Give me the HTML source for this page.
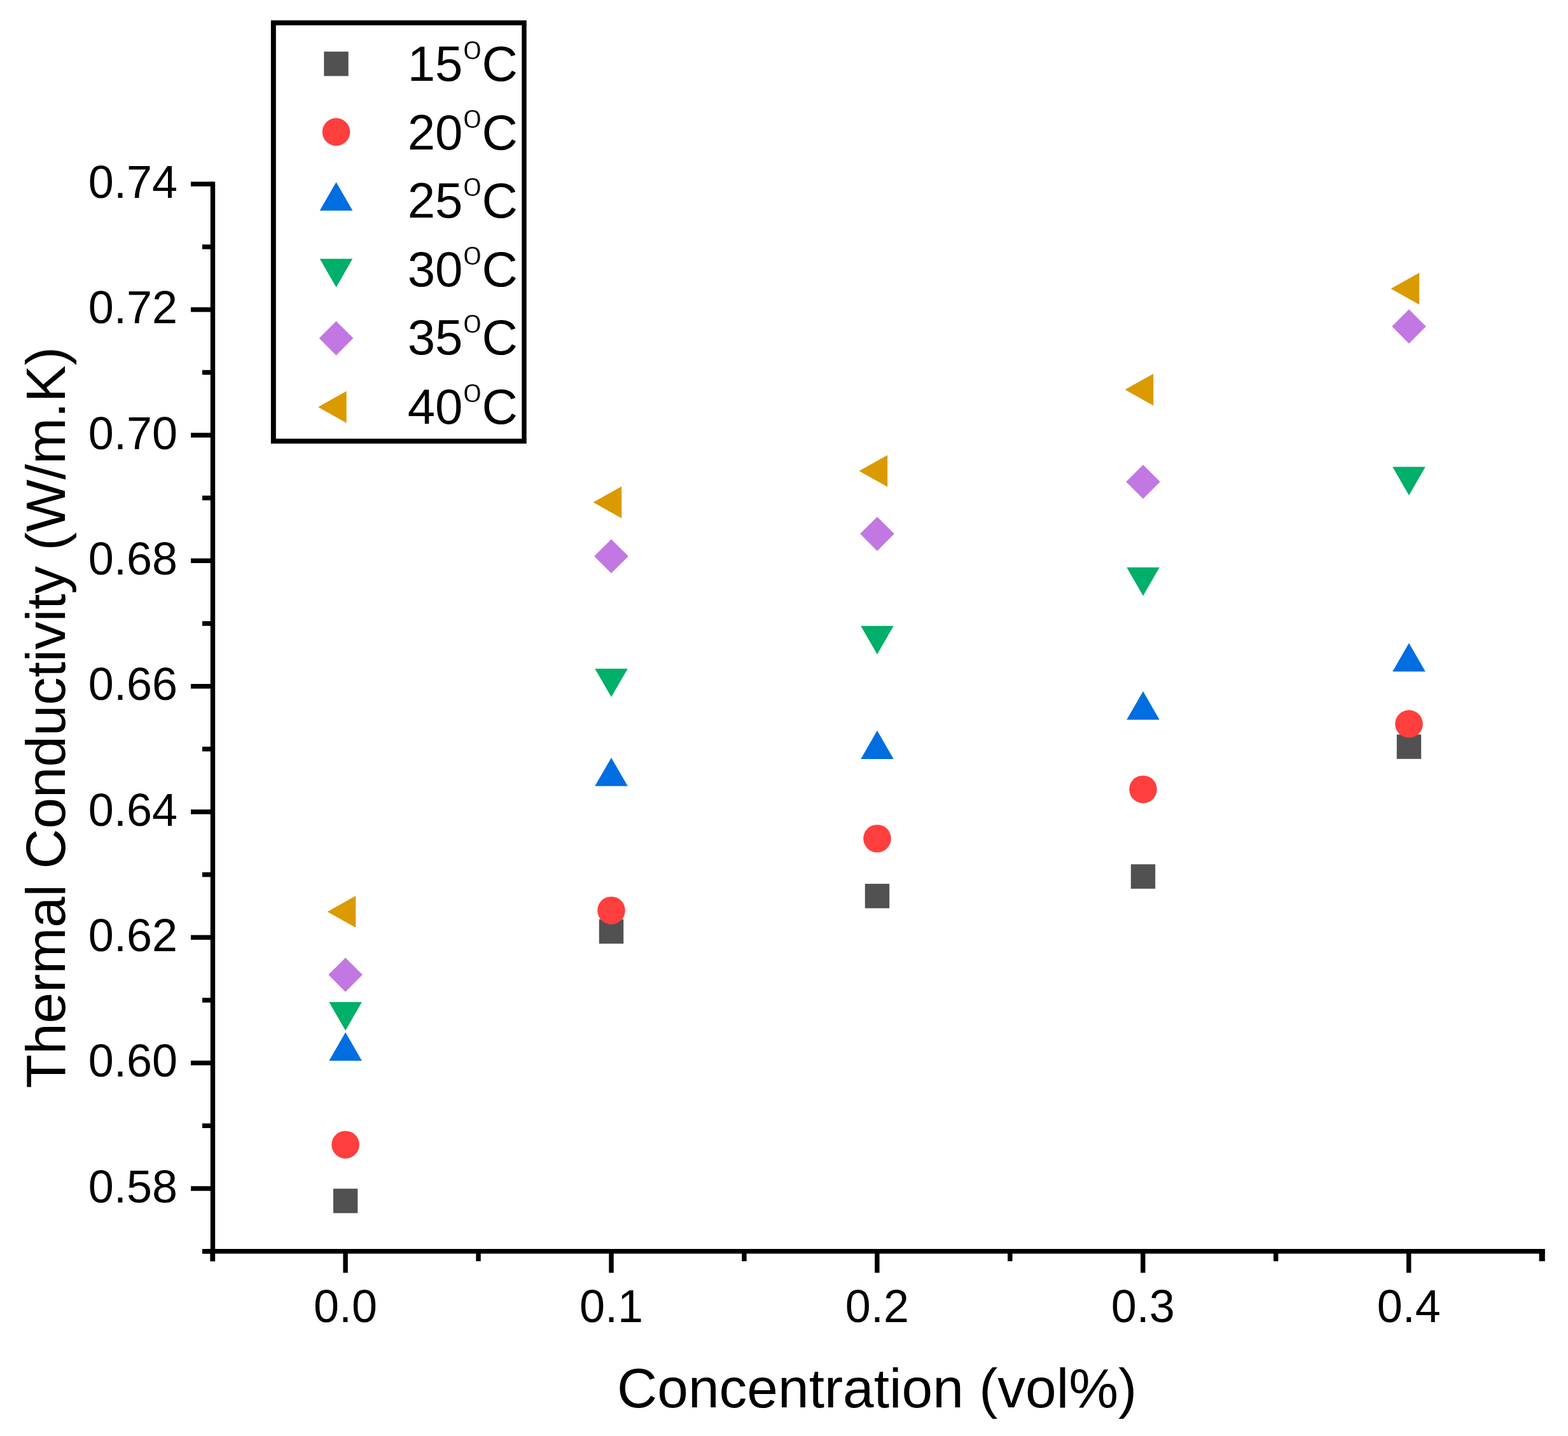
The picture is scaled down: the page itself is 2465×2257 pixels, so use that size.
<!DOCTYPE html>
<html><head><meta charset="utf-8"><title>Thermal Conductivity vs Concentration</title>
<style>html,body{margin:0;padding:0;background:#fff;}body{width:2465px;height:2257px;overflow:hidden;}svg{display:block;}text{font-family:"Liberation Sans",Arial,Helvetica,sans-serif;fill:#000;}</style>
</head><body>
<svg width="2465" height="2257" viewBox="0 0 2465 2257">
<rect width="2465" height="2257" fill="#fff"/>
<g fill="#000">
<rect x="330.8" y="285.6" width="7.4" height="1696.7"/>
<rect x="318" y="1963" width="2110.8" height="7.4"/>
<rect x="318" y="1962.99" width="16.5" height="7.4"/>
<rect x="300" y="1864.32" width="34.5" height="7.4"/>
<rect x="318" y="1765.65" width="16.5" height="7.4"/>
<rect x="300" y="1666.98" width="34.5" height="7.4"/>
<rect x="318" y="1568.31" width="16.5" height="7.4"/>
<rect x="300" y="1469.64" width="34.5" height="7.4"/>
<rect x="318" y="1370.97" width="16.5" height="7.4"/>
<rect x="300" y="1272.3" width="34.5" height="7.4"/>
<rect x="318" y="1173.63" width="16.5" height="7.4"/>
<rect x="300" y="1074.96" width="34.5" height="7.4"/>
<rect x="318" y="976.29" width="16.5" height="7.4"/>
<rect x="300" y="877.62" width="34.5" height="7.4"/>
<rect x="318" y="778.95" width="16.5" height="7.4"/>
<rect x="300" y="680.28" width="34.5" height="7.4"/>
<rect x="318" y="581.61" width="16.5" height="7.4"/>
<rect x="300" y="482.94" width="34.5" height="7.4"/>
<rect x="318" y="384.27" width="16.5" height="7.4"/>
<rect x="300" y="285.6" width="34.5" height="7.4"/>
<rect x="330.45" y="1966.7" width="7.4" height="15.6"/>
<rect x="539.4" y="1966.7" width="7.4" height="33.8"/>
<rect x="748.35" y="1966.7" width="7.4" height="15.6"/>
<rect x="957.3" y="1966.7" width="7.4" height="33.8"/>
<rect x="1166.25" y="1966.7" width="7.4" height="15.6"/>
<rect x="1375.2" y="1966.7" width="7.4" height="33.8"/>
<rect x="1584.15" y="1966.7" width="7.4" height="15.6"/>
<rect x="1793.1" y="1966.7" width="7.4" height="33.8"/>
<rect x="2002.05" y="1966.7" width="7.4" height="15.6"/>
<rect x="2211" y="1966.7" width="7.4" height="33.8"/>
<rect x="2419.6" y="1966.7" width="9.2" height="15.6"/>
</g>
<g font-size="72">
<text x="279" y="1889.62" text-anchor="end">0.58</text>
<text x="279" y="1692.28" text-anchor="end">0.60</text>
<text x="279" y="1494.94" text-anchor="end">0.62</text>
<text x="279" y="1297.6" text-anchor="end">0.64</text>
<text x="279" y="1100.26" text-anchor="end">0.66</text>
<text x="279" y="902.92" text-anchor="end">0.68</text>
<text x="279" y="705.58" text-anchor="end">0.70</text>
<text x="279" y="508.24" text-anchor="end">0.72</text>
<text x="279" y="310.9" text-anchor="end">0.74</text>
<text x="543.1" y="2078.2" text-anchor="middle">0.0</text>
<text x="961" y="2078.2" text-anchor="middle">0.1</text>
<text x="1378.9" y="2078.2" text-anchor="middle">0.2</text>
<text x="1796.8" y="2078.2" text-anchor="middle">0.3</text>
<text x="2214.7" y="2078.2" text-anchor="middle">0.4</text>
</g>
<text x="1378.6" y="2211.7" font-size="87.5" text-anchor="middle">Concentration (vol%)</text>
<text transform="translate(101.7,1127.8) rotate(-90)" font-size="87.4" text-anchor="middle">Thermal Conductivity (W/m.K)</text>
<g>
<rect x="523.9" y="1868.3" width="38.4" height="38.4" fill="#515151"/>
<rect x="941.8" y="1444.8" width="38.4" height="38.4" fill="#515151"/>
<rect x="1359.8" y="1389.1" width="38.4" height="38.4" fill="#515151"/>
<rect x="1777.8" y="1358.4" width="38.4" height="38.4" fill="#515151"/>
<rect x="2195.8" y="1154.4" width="38.4" height="38.4" fill="#515151"/>
<circle cx="543.1" cy="1799.2" r="21.8" fill="#FF3E3E"/>
<circle cx="961" cy="1431" r="21.8" fill="#FF3E3E"/>
<circle cx="1379" cy="1318" r="21.8" fill="#FF3E3E"/>
<circle cx="1797" cy="1240.7" r="21.8" fill="#FF3E3E"/>
<circle cx="2215" cy="1137.8" r="21.8" fill="#FF3E3E"/>
<polygon points="543.1,1622.51 568.9,1667.2 517.3,1667.2" fill="#006EE0"/>
<polygon points="961,1190.91 986.8,1235.6 935.2,1235.6" fill="#006EE0"/>
<polygon points="1379,1148.31 1404.8,1193 1353.2,1193" fill="#006EE0"/>
<polygon points="1797,1086.61 1822.8,1131.3 1771.2,1131.3" fill="#006EE0"/>
<polygon points="2215,1010.71 2240.8,1055.4 2189.2,1055.4" fill="#006EE0"/>
<polygon points="543.1,1619.79 568.9,1575.1 517.3,1575.1" fill="#00AF69"/>
<polygon points="961,1095.59 986.8,1050.9 935.2,1050.9" fill="#00AF69"/>
<polygon points="1379,1028.39 1404.8,983.7 1353.2,983.7" fill="#00AF69"/>
<polygon points="1797,936.49 1822.8,891.8 1771.2,891.8" fill="#00AF69"/>
<polygon points="2215,778.49 2240.8,733.8 2189.2,733.8" fill="#00AF69"/>
<polygon points="543.1,1505.3 569.9,1532.1 543.1,1558.9 516.3,1532.1" fill="#C277E3"/>
<polygon points="961,847.5 987.8,874.3 961,901.1 934.2,874.3" fill="#C277E3"/>
<polygon points="1379,812.3 1405.8,839.1 1379,865.9 1352.2,839.1" fill="#C277E3"/>
<polygon points="1797,730.4 1823.8,757.2 1797,784 1770.2,757.2" fill="#C277E3"/>
<polygon points="2215,486.3 2241.8,513.1 2215,539.9 2188.2,513.1" fill="#C277E3"/>
<polygon points="514.67,1433 559.27,1408 559.27,1458" fill="#DA9A00"/>
<polygon points="932.57,789.4 977.17,764.4 977.17,814.4" fill="#DA9A00"/>
<polygon points="1350.57,740.2 1395.17,715.2 1395.17,765.2" fill="#DA9A00"/>
<polygon points="1768.57,612.4 1813.17,587.4 1813.17,637.4" fill="#DA9A00"/>
<polygon points="2186.57,453.7 2231.17,428.7 2231.17,478.7" fill="#DA9A00"/>
</g>
<path fill="#000" fill-rule="evenodd" d="M425.9,32H827.7V697.3H425.9Z M433.8,39.8V689.4H820.3V39.8Z"/>
<rect x="509.3" y="81.1" width="38.4" height="38.4" fill="#515151"/>
<circle cx="528.5" cy="207.3" r="21.8" fill="#FF3E3E"/>
<polygon points="528.5,286.31 554.3,331 502.7,331" fill="#006EE0"/>
<polygon points="528.5,451.39 554.3,406.7 502.7,406.7" fill="#00AF69"/>
<polygon points="528.5,504.8 555.3,531.6 528.5,558.4 501.7,531.6" fill="#C277E3"/>
<polygon points="500.07,639.7 544.67,614.7 544.67,664.7" fill="#DA9A00"/>
<g font-size="78">
<text x="640.7" y="126.5">15<tspan font-size="54" dy="-34" stroke="#fff" stroke-width="1.2">o</tspan><tspan dy="34">C</tspan></text>
<text x="640.7" y="235">20<tspan font-size="54" dy="-34" stroke="#fff" stroke-width="1.2">o</tspan><tspan dy="34">C</tspan></text>
<text x="640.7" y="342">25<tspan font-size="54" dy="-34" stroke="#fff" stroke-width="1.2">o</tspan><tspan dy="34">C</tspan></text>
<text x="640.7" y="449.8">30<tspan font-size="54" dy="-34" stroke="#fff" stroke-width="1.2">o</tspan><tspan dy="34">C</tspan></text>
<text x="640.7" y="556.6">35<tspan font-size="54" dy="-34" stroke="#fff" stroke-width="1.2">o</tspan><tspan dy="34">C</tspan></text>
<text x="640.7" y="666">40<tspan font-size="54" dy="-34" stroke="#fff" stroke-width="1.2">o</tspan><tspan dy="34">C</tspan></text>
</g>
</svg>
</body></html>
